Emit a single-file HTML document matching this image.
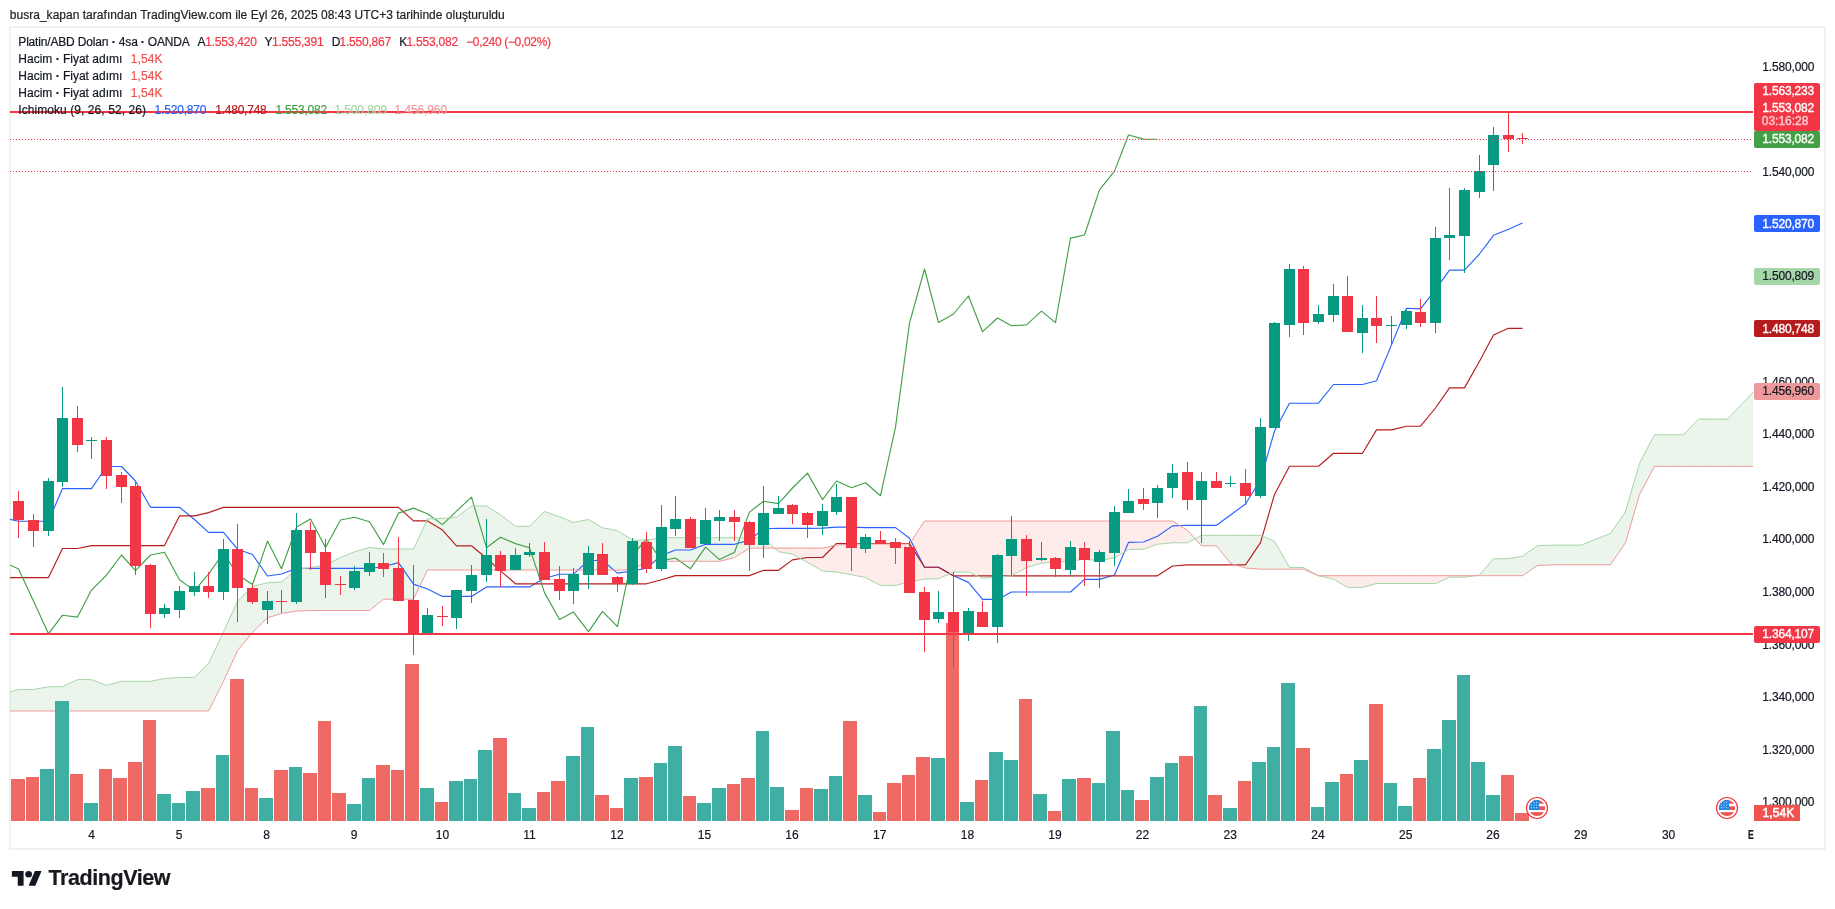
<!DOCTYPE html>
<html><head><meta charset="utf-8"><title>chart</title>
<style>
html,body{margin:0;padding:0;background:#fff;}
body{width:1835px;height:909px;position:relative;overflow:hidden;font-family:"Liberation Sans",sans-serif;}
.frame{position:absolute;left:9px;top:26px;width:1813px;height:820px;border:2px solid #f1f1f2;box-sizing:content-box}
.t{font-family:"Liberation Sans",sans-serif;-webkit-text-stroke:0.2px currentColor;}.t b{font-weight:bold}
</style></head><body>
<div class="frame"></div>
<svg width="1835" height="909" viewBox="0 0 1835 909" style="position:absolute;left:0;top:0"><defs><clipPath id="cp"><rect x="10" y="28" width="1743" height="793"/></clipPath></defs>
<g clip-path="url(#cp)">
<path d="M10.00 691.90 L18.50 689.50 L33.50 689.50 L48.50 686.70 L62.50 686.70 L77.50 679.60 L91.50 679.60 L106.50 685.40 L121.50 681.30 L135.50 681.30 L150.50 681.30 L164.50 678.50 L179.50 677.50 L194.50 677.30 L208.50 663.70 L223.50 631.80 L237.50 601.30 L252.50 586.40 L267.50 582.80 L281.50 582.00 L296.50 569.50 L310.50 567.60 L325.50 565.00 L340.50 557.50 L354.50 551.90 L369.50 547.40 L383.50 549.00 L398.50 549.00 L413.50 549.00 L427.50 518.90 L442.50 518.40 L456.50 517.20 L471.50 506.00 L486.50 506.00 L500.50 514.80 L515.50 526.30 L529.50 526.30 L544.50 511.50 L559.50 516.70 L573.50 522.50 L588.50 519.50 L602.50 527.80 L617.50 530.70 L632.50 540.10 L646.50 540.10 L661.50 537.70 L675.50 537.70 L690.50 537.70 L705.50 537.70 L719.50 537.70 L734.50 537.70 L749.50 537.70 L763.50 538.00 L763.50 548.10 L749.50 548.10 L734.50 557.50 L719.50 561.30 L705.50 561.30 L690.50 561.30 L675.50 561.30 L661.50 561.30 L646.50 561.40 L632.50 570.00 L617.50 570.00 L602.50 570.00 L588.50 570.00 L573.50 570.00 L559.50 570.00 L544.50 570.00 L529.50 570.00 L515.50 570.00 L500.50 570.00 L486.50 570.00 L471.50 570.00 L456.50 570.00 L442.50 570.00 L427.50 570.00 L413.50 599.20 L398.50 599.20 L383.50 599.20 L369.50 610.50 L354.50 610.50 L340.50 610.50 L325.50 610.50 L310.50 610.50 L296.50 611.00 L281.50 613.50 L267.50 617.80 L252.50 632.60 L237.50 650.50 L223.50 681.40 L208.50 711.00 L194.50 711.00 L179.50 711.00 L164.50 711.00 L150.50 711.00 L135.50 711.00 L121.50 711.00 L106.50 711.00 L91.50 711.00 L77.50 711.00 L62.50 711.00 L48.50 711.00 L33.50 711.00 L18.50 711.00 L10.00 711.00Z M1187.50 542.80 L1201.50 535.30 L1216.50 535.30 L1230.50 535.30 L1245.50 535.30 L1260.50 535.30 L1274.50 541.20 L1289.50 567.50 L1303.50 567.50 L1303.50 569.20 L1289.50 569.20 L1274.50 569.20 L1260.50 569.20 L1245.50 568.00 L1230.50 563.40 L1216.50 545.80 L1201.50 545.80 L1187.50 530.40Z M1464.50 577.20 L1479.50 575.00 L1493.50 558.70 L1508.50 558.70 L1522.50 556.20 L1537.50 545.70 L1552.50 545.10 L1566.50 545.10 L1581.50 545.10 L1595.50 539.30 L1610.50 533.40 L1625.50 511.90 L1639.50 463.20 L1654.50 434.80 L1668.50 434.80 L1683.50 434.80 L1698.50 419.10 L1712.50 419.10 L1727.50 419.10 L1741.50 404.60 L1756.50 388.50 L1771.50 367.30 L1771.50 466.30 L1756.50 466.30 L1741.50 466.30 L1727.50 466.30 L1712.50 466.30 L1698.50 466.30 L1683.50 466.30 L1668.50 466.30 L1654.50 466.30 L1639.50 494.60 L1625.50 542.70 L1610.50 564.80 L1595.50 564.80 L1581.50 564.80 L1566.50 564.80 L1552.50 564.80 L1537.50 565.50 L1522.50 575.70 L1508.50 575.70 L1493.50 575.70 L1479.50 575.70 L1464.50 575.70Z " fill="#43a047" fill-opacity="0.1"/>
<path d="M763.50 538.00 L778.50 551.70 L792.50 554.20 L807.50 562.40 L822.50 571.00 L836.50 572.00 L851.50 574.80 L865.50 577.50 L880.50 585.40 L895.50 585.40 L909.50 582.00 L924.50 579.10 L938.50 578.80 L953.50 572.00 L968.50 572.00 L982.50 578.30 L997.50 577.00 L1011.50 575.80 L1026.50 567.60 L1041.50 563.10 L1055.50 562.30 L1070.50 561.00 L1084.50 559.30 L1099.50 560.60 L1114.50 557.80 L1128.50 549.60 L1143.50 549.20 L1157.50 544.20 L1172.50 542.80 L1187.50 542.80 L1187.50 530.40 L1172.50 521.00 L1157.50 521.00 L1143.50 521.00 L1128.50 521.00 L1114.50 521.00 L1099.50 521.00 L1084.50 521.00 L1070.50 521.00 L1055.50 521.00 L1041.50 521.00 L1026.50 521.00 L1011.50 521.00 L997.50 521.00 L982.50 521.00 L968.50 521.00 L953.50 521.00 L938.50 521.00 L924.50 521.00 L909.50 544.00 L895.50 544.00 L880.50 544.00 L865.50 544.00 L851.50 544.00 L836.50 545.00 L822.50 548.10 L807.50 548.10 L792.50 548.10 L778.50 548.10 L763.50 548.10Z M1303.50 567.50 L1318.50 575.80 L1333.50 579.00 L1347.50 587.40 L1362.50 587.40 L1376.50 583.50 L1391.50 583.50 L1406.50 583.50 L1420.50 583.50 L1435.50 583.50 L1449.50 577.20 L1464.50 577.20 L1464.50 575.70 L1449.50 575.70 L1435.50 575.70 L1420.50 575.70 L1406.50 575.70 L1391.50 575.70 L1376.50 575.70 L1362.50 575.70 L1347.50 575.70 L1333.50 575.70 L1318.50 575.70 L1303.50 569.20Z " fill="#f44336" fill-opacity="0.1"/>
<polyline points="10.00,519.40 18.50,521.20 33.50,521.20 48.50,521.20 62.50,488.60 77.50,488.60 91.50,488.60 106.50,466.50 121.50,466.50 135.50,481.00 150.50,507.30 164.50,507.30 179.50,507.30 194.50,519.50 208.50,532.40 223.50,532.40 237.50,549.20 252.50,554.50 267.50,576.00 281.50,574.00 296.50,568.40 310.50,568.40 325.50,568.40 340.50,568.40 354.50,568.40 369.50,568.40 383.50,566.70 398.50,562.60 413.50,584.10 427.50,589.00 442.50,596.40 456.50,596.40 471.50,596.40 486.50,586.90 500.50,586.90 515.50,586.90 529.50,586.90 544.50,578.30 559.50,574.20 573.50,574.20 588.50,560.50 602.50,560.50 617.50,573.10 632.50,571.00 646.50,568.20 661.50,555.50 675.50,550.00 690.50,550.00 705.50,544.30 719.50,544.30 734.50,544.30 749.50,540.10 763.50,528.70 778.50,528.30 792.50,528.30 807.50,528.30 822.50,528.10 836.50,527.10 851.50,527.10 865.50,527.60 880.50,527.60 895.50,527.60 909.50,538.30 924.50,567.20 938.50,567.20 953.50,575.80 968.50,582.40 982.50,599.40 997.50,599.40 1011.50,592.00 1026.50,592.00 1041.50,592.00 1055.50,592.00 1070.50,592.00 1084.50,579.40 1099.50,579.40 1114.50,575.00 1128.50,542.40 1143.50,542.00 1157.50,536.20 1172.50,525.90 1187.50,525.30 1201.50,525.30 1216.50,525.30 1230.50,515.00 1245.50,504.00 1260.50,480.00 1274.50,431.00 1289.50,403.20 1303.50,403.20 1318.50,403.20 1333.50,384.50 1347.50,384.50 1362.50,384.50 1376.50,380.70 1391.50,344.90 1406.50,308.30 1420.50,308.90 1435.50,289.60 1449.50,270.10 1464.50,270.10 1479.50,254.00 1493.50,235.30 1508.50,229.20 1522.50,222.90" fill="none" stroke="#2962ff" stroke-width="1.15" stroke-linejoin="round"/>
<polyline points="10.00,577.60 18.50,577.60 33.50,577.60 48.50,577.60 62.50,548.50 77.50,548.50 91.50,545.60 106.50,545.60 121.50,545.60 135.50,545.60 150.50,545.60 164.50,545.60 179.50,515.90 194.50,515.90 208.50,512.60 223.50,507.40 237.50,507.40 252.50,507.40 267.50,507.40 281.50,507.40 296.50,507.40 310.50,507.40 325.50,507.40 340.50,507.40 354.50,507.40 369.50,507.40 383.50,507.40 398.50,507.40 413.50,520.90 427.50,520.90 442.50,530.10 456.50,545.80 471.50,545.80 486.50,558.30 500.50,570.90 515.50,583.80 529.50,583.80 544.50,583.80 559.50,583.80 573.50,583.80 588.50,583.80 602.50,583.80 617.50,583.80 632.50,583.80 646.50,583.80 661.50,579.70 675.50,575.60 690.50,575.60 705.50,575.60 719.50,575.60 734.50,575.60 749.50,575.60 763.50,570.30 778.50,570.30 792.50,559.90 807.50,557.50 822.50,557.50 836.50,543.50 851.50,543.50 865.50,543.50 880.50,543.50 895.50,543.50 909.50,543.50 924.50,567.20 938.50,567.20 953.50,575.80 968.50,575.80 982.50,575.80 997.50,575.80 1011.50,575.80 1026.50,575.80 1041.50,575.80 1055.50,575.80 1070.50,575.80 1084.50,575.80 1099.50,575.80 1114.50,575.80 1128.50,575.80 1143.50,575.80 1157.50,575.80 1172.50,566.00 1187.50,564.90 1201.50,564.90 1216.50,564.90 1230.50,564.90 1245.50,564.90 1260.50,542.60 1274.50,494.40 1289.50,466.20 1303.50,466.20 1318.50,466.20 1333.50,453.30 1347.50,453.30 1362.50,453.30 1376.50,429.90 1391.50,429.90 1406.50,426.20 1420.50,426.20 1435.50,408.00 1449.50,387.90 1464.50,387.90 1479.50,361.20 1493.50,335.10 1508.50,328.30 1522.50,328.30" fill="none" stroke="#b71c1c" stroke-width="1.15" stroke-linejoin="round"/>
<polyline points="10.00,564.90 18.50,568.90 33.50,601.00 48.50,633.80 62.50,615.20 77.50,617.10 91.50,590.10 106.50,575.10 121.50,555.00 135.50,570.70 150.50,555.00 164.50,552.20 179.50,579.70 194.50,590.60 208.50,574.20 223.50,553.00 237.50,574.60 252.50,584.50 267.50,541.10 281.50,568.70 296.50,527.10 310.50,519.00 325.50,547.60 340.50,520.00 354.50,517.20 369.50,521.70 383.50,544.60 398.50,513.10 413.50,508.10 427.50,513.70 442.50,524.60 456.50,511.10 471.50,497.10 486.50,547.70 500.50,537.20 515.50,543.60 529.50,547.80 544.50,592.60 559.50,619.50 573.50,612.10 588.50,631.60 602.50,611.30 617.50,626.60 632.50,555.00 646.50,539.00 661.50,560.60 675.50,558.00 690.50,568.70 705.50,547.10 719.50,559.60 734.50,552.20 749.50,512.10 763.50,501.20 778.50,503.60 792.50,488.00 807.50,473.10 822.50,499.70 836.50,481.00 851.50,487.80 865.50,482.80 880.50,495.70 895.50,427.10 909.50,323.10 924.50,269.00 938.50,322.60 953.50,314.00 968.50,296.00 982.50,331.70 997.50,318.00 1011.50,325.70 1026.50,324.90 1041.50,311.10 1055.50,322.60 1070.50,238.10 1084.50,235.00 1099.50,189.90 1114.50,171.10 1128.50,135.00 1143.50,139.10 1157.50,139.30" fill="none" stroke="#43a047" stroke-width="1.15" stroke-linejoin="round"/>
<polyline points="10.00,691.90 18.50,689.50 33.50,689.50 48.50,686.70 62.50,686.70 77.50,679.60 91.50,679.60 106.50,685.40 121.50,681.30 135.50,681.30 150.50,681.30 164.50,678.50 179.50,677.50 194.50,677.30 208.50,663.70 223.50,631.80 237.50,601.30 252.50,586.40 267.50,582.80 281.50,582.00 296.50,569.50 310.50,567.60 325.50,565.00 340.50,557.50 354.50,551.90 369.50,547.40 383.50,549.00 398.50,549.00 413.50,549.00 427.50,518.90 442.50,518.40 456.50,517.20 471.50,506.00 486.50,506.00 500.50,514.80 515.50,526.30 529.50,526.30 544.50,511.50 559.50,516.70 573.50,522.50 588.50,519.50 602.50,527.80 617.50,530.70 632.50,540.10 646.50,540.10 661.50,537.70 675.50,537.70 690.50,537.70 705.50,537.70 719.50,537.70 734.50,537.70 749.50,537.70 763.50,538.00 778.50,551.70 792.50,554.20 807.50,562.40 822.50,571.00 836.50,572.00 851.50,574.80 865.50,577.50 880.50,585.40 895.50,585.40 909.50,582.00 924.50,579.10 938.50,578.80 953.50,572.00 968.50,572.00 982.50,578.30 997.50,577.00 1011.50,575.80 1026.50,567.60 1041.50,563.10 1055.50,562.30 1070.50,561.00 1084.50,559.30 1099.50,560.60 1114.50,557.80 1128.50,549.60 1143.50,549.20 1157.50,544.20 1172.50,542.80 1187.50,542.80 1201.50,535.30 1216.50,535.30 1230.50,535.30 1245.50,535.30 1260.50,535.30 1274.50,541.20 1289.50,567.50 1303.50,567.50 1318.50,575.80 1333.50,579.00 1347.50,587.40 1362.50,587.40 1376.50,583.50 1391.50,583.50 1406.50,583.50 1420.50,583.50 1435.50,583.50 1449.50,577.20 1464.50,577.20 1479.50,575.00 1493.50,558.70 1508.50,558.70 1522.50,556.20 1537.50,545.70 1552.50,545.10 1566.50,545.10 1581.50,545.10 1595.50,539.30 1610.50,533.40 1625.50,511.90 1639.50,463.20 1654.50,434.80 1668.50,434.80 1683.50,434.80 1698.50,419.10 1712.50,419.10 1727.50,419.10 1741.50,404.60 1756.50,388.50 1771.50,367.30" fill="none" stroke="#a5d6a7" stroke-width="1" stroke-linejoin="round"/>
<polyline points="10.00,711.00 18.50,711.00 33.50,711.00 48.50,711.00 62.50,711.00 77.50,711.00 91.50,711.00 106.50,711.00 121.50,711.00 135.50,711.00 150.50,711.00 164.50,711.00 179.50,711.00 194.50,711.00 208.50,711.00 223.50,681.40 237.50,650.50 252.50,632.60 267.50,617.80 281.50,613.50 296.50,611.00 310.50,610.50 325.50,610.50 340.50,610.50 354.50,610.50 369.50,610.50 383.50,599.20 398.50,599.20 413.50,599.20 427.50,570.00 442.50,570.00 456.50,570.00 471.50,570.00 486.50,570.00 500.50,570.00 515.50,570.00 529.50,570.00 544.50,570.00 559.50,570.00 573.50,570.00 588.50,570.00 602.50,570.00 617.50,570.00 632.50,570.00 646.50,561.40 661.50,561.30 675.50,561.30 690.50,561.30 705.50,561.30 719.50,561.30 734.50,557.50 749.50,548.10 763.50,548.10 778.50,548.10 792.50,548.10 807.50,548.10 822.50,548.10 836.50,545.00 851.50,544.00 865.50,544.00 880.50,544.00 895.50,544.00 909.50,544.00 924.50,521.00 938.50,521.00 953.50,521.00 968.50,521.00 982.50,521.00 997.50,521.00 1011.50,521.00 1026.50,521.00 1041.50,521.00 1055.50,521.00 1070.50,521.00 1084.50,521.00 1099.50,521.00 1114.50,521.00 1128.50,521.00 1143.50,521.00 1157.50,521.00 1172.50,521.00 1187.50,530.40 1201.50,545.80 1216.50,545.80 1230.50,563.40 1245.50,568.00 1260.50,569.20 1274.50,569.20 1289.50,569.20 1303.50,569.20 1318.50,575.70 1333.50,575.70 1347.50,575.70 1362.50,575.70 1376.50,575.70 1391.50,575.70 1406.50,575.70 1420.50,575.70 1435.50,575.70 1449.50,575.70 1464.50,575.70 1479.50,575.70 1493.50,575.70 1508.50,575.70 1522.50,575.70 1537.50,565.50 1552.50,564.80 1566.50,564.80 1581.50,564.80 1595.50,564.80 1610.50,564.80 1625.50,542.70 1639.50,494.60 1654.50,466.30 1668.50,466.30 1683.50,466.30 1698.50,466.30 1712.50,466.30 1727.50,466.30 1741.50,466.30 1756.50,466.30 1771.50,466.30" fill="none" stroke="#ef9a9a" stroke-width="1" stroke-linejoin="round"/>
</g>
<g shape-rendering="crispEdges">
<rect x="11.0" y="779" width="14.0" height="42" fill="#ef6a65"/>
<rect x="26.0" y="777" width="13.0" height="44" fill="#ef6a65"/>
<rect x="40.0" y="769" width="14.0" height="52" fill="#3faea3"/>
<rect x="55.0" y="701" width="14.0" height="120" fill="#3faea3"/>
<rect x="70.0" y="774" width="13.0" height="47" fill="#ef6a65"/>
<rect x="84.0" y="803" width="14.0" height="18" fill="#3faea3"/>
<rect x="99.0" y="769" width="13.0" height="52" fill="#ef6a65"/>
<rect x="113.0" y="778" width="14.0" height="43" fill="#ef6a65"/>
<rect x="128.0" y="762" width="14.0" height="59" fill="#ef6a65"/>
<rect x="143.0" y="720" width="13.0" height="101" fill="#ef6a65"/>
<rect x="157.0" y="794" width="14.0" height="27" fill="#3faea3"/>
<rect x="172.0" y="803" width="13.0" height="18" fill="#3faea3"/>
<rect x="186.0" y="791" width="14.0" height="30" fill="#3faea3"/>
<rect x="201.0" y="788" width="14.0" height="33" fill="#ef6a65"/>
<rect x="216.0" y="755" width="13.0" height="66" fill="#3faea3"/>
<rect x="230.0" y="679" width="14.0" height="142" fill="#ef6a65"/>
<rect x="245.0" y="788" width="13.0" height="33" fill="#ef6a65"/>
<rect x="259.0" y="798" width="14.0" height="23" fill="#3faea3"/>
<rect x="274.0" y="770" width="14.0" height="51" fill="#ef6a65"/>
<rect x="289.0" y="767" width="13.0" height="54" fill="#3faea3"/>
<rect x="303.0" y="773" width="14.0" height="48" fill="#ef6a65"/>
<rect x="318.0" y="721" width="13.0" height="100" fill="#ef6a65"/>
<rect x="332.0" y="793" width="14.0" height="28" fill="#ef6a65"/>
<rect x="347.0" y="804" width="14.0" height="17" fill="#3faea3"/>
<rect x="362.0" y="778" width="13.0" height="43" fill="#3faea3"/>
<rect x="376.0" y="765" width="14.0" height="56" fill="#ef6a65"/>
<rect x="391.0" y="770" width="13.0" height="51" fill="#ef6a65"/>
<rect x="405.0" y="664" width="14.0" height="157" fill="#ef6a65"/>
<rect x="420.0" y="788" width="14.0" height="33" fill="#3faea3"/>
<rect x="435.0" y="802" width="13.0" height="19" fill="#ef6a65"/>
<rect x="449.0" y="781" width="14.0" height="40" fill="#3faea3"/>
<rect x="464.0" y="779" width="13.0" height="42" fill="#3faea3"/>
<rect x="478.0" y="750" width="14.0" height="71" fill="#3faea3"/>
<rect x="493.0" y="738" width="14.0" height="83" fill="#ef6a65"/>
<rect x="508.0" y="793" width="13.0" height="28" fill="#3faea3"/>
<rect x="522.0" y="808" width="14.0" height="13" fill="#3faea3"/>
<rect x="537.0" y="792" width="13.0" height="29" fill="#ef6a65"/>
<rect x="551.0" y="781" width="14.0" height="40" fill="#ef6a65"/>
<rect x="566.0" y="756" width="14.0" height="65" fill="#3faea3"/>
<rect x="581.0" y="727" width="13.0" height="94" fill="#3faea3"/>
<rect x="595.0" y="795" width="14.0" height="26" fill="#ef6a65"/>
<rect x="610.0" y="808" width="13.0" height="13" fill="#ef6a65"/>
<rect x="624.0" y="778" width="14.0" height="43" fill="#3faea3"/>
<rect x="639.0" y="777" width="14.0" height="44" fill="#ef6a65"/>
<rect x="654.0" y="763" width="13.0" height="58" fill="#3faea3"/>
<rect x="668.0" y="746" width="14.0" height="75" fill="#3faea3"/>
<rect x="683.0" y="796" width="13.0" height="25" fill="#ef6a65"/>
<rect x="697.0" y="803" width="14.0" height="18" fill="#3faea3"/>
<rect x="712.0" y="788" width="14.0" height="33" fill="#3faea3"/>
<rect x="727.0" y="784" width="13.0" height="37" fill="#ef6a65"/>
<rect x="741.0" y="778" width="14.0" height="43" fill="#ef6a65"/>
<rect x="756.0" y="731" width="13.0" height="90" fill="#3faea3"/>
<rect x="770.0" y="787" width="14.0" height="34" fill="#3faea3"/>
<rect x="785.0" y="810" width="14.0" height="11" fill="#ef6a65"/>
<rect x="800.0" y="788" width="13.0" height="33" fill="#ef6a65"/>
<rect x="814.0" y="789" width="14.0" height="32" fill="#3faea3"/>
<rect x="829.0" y="776" width="13.0" height="45" fill="#3faea3"/>
<rect x="843.0" y="721" width="14.0" height="100" fill="#ef6a65"/>
<rect x="858.0" y="795" width="14.0" height="26" fill="#3faea3"/>
<rect x="873.0" y="812" width="13.0" height="9" fill="#ef6a65"/>
<rect x="887.0" y="783" width="14.0" height="38" fill="#ef6a65"/>
<rect x="902.0" y="775" width="13.0" height="46" fill="#ef6a65"/>
<rect x="916.0" y="757" width="14.0" height="64" fill="#ef6a65"/>
<rect x="931.0" y="758" width="14.0" height="63" fill="#3faea3"/>
<rect x="946.0" y="623" width="13.0" height="198" fill="#ef6a65"/>
<rect x="960.0" y="802" width="14.0" height="19" fill="#3faea3"/>
<rect x="975.0" y="780" width="13.0" height="41" fill="#ef6a65"/>
<rect x="989.0" y="752" width="14.0" height="69" fill="#3faea3"/>
<rect x="1004.0" y="760" width="14.0" height="61" fill="#3faea3"/>
<rect x="1019.0" y="699" width="13.0" height="122" fill="#ef6a65"/>
<rect x="1033.0" y="794" width="14.0" height="27" fill="#3faea3"/>
<rect x="1048.0" y="811" width="13.0" height="10" fill="#ef6a65"/>
<rect x="1062.0" y="779" width="14.0" height="42" fill="#3faea3"/>
<rect x="1077.0" y="778" width="14.0" height="43" fill="#ef6a65"/>
<rect x="1092.0" y="783" width="13.0" height="38" fill="#3faea3"/>
<rect x="1106.0" y="731" width="14.0" height="90" fill="#3faea3"/>
<rect x="1121.0" y="790" width="13.0" height="31" fill="#3faea3"/>
<rect x="1135.0" y="800" width="14.0" height="21" fill="#ef6a65"/>
<rect x="1150.0" y="777" width="14.0" height="44" fill="#3faea3"/>
<rect x="1165.0" y="763" width="13.0" height="58" fill="#3faea3"/>
<rect x="1179.0" y="756" width="14.0" height="65" fill="#ef6a65"/>
<rect x="1194.0" y="706" width="13.0" height="115" fill="#3faea3"/>
<rect x="1208.0" y="795" width="14.0" height="26" fill="#ef6a65"/>
<rect x="1223.0" y="808" width="14.0" height="13" fill="#3faea3"/>
<rect x="1238.0" y="781" width="13.0" height="40" fill="#ef6a65"/>
<rect x="1252.0" y="762" width="14.0" height="59" fill="#3faea3"/>
<rect x="1267.0" y="747" width="13.0" height="74" fill="#3faea3"/>
<rect x="1281.0" y="683" width="14.0" height="138" fill="#3faea3"/>
<rect x="1296.0" y="748" width="14.0" height="73" fill="#ef6a65"/>
<rect x="1311.0" y="807" width="13.0" height="14" fill="#3faea3"/>
<rect x="1325.0" y="782" width="14.0" height="39" fill="#3faea3"/>
<rect x="1340.0" y="774" width="13.0" height="47" fill="#ef6a65"/>
<rect x="1354.0" y="760" width="14.0" height="61" fill="#3faea3"/>
<rect x="1369.0" y="704" width="14.0" height="117" fill="#ef6a65"/>
<rect x="1384.0" y="783" width="13.0" height="38" fill="#3faea3"/>
<rect x="1398.0" y="806" width="14.0" height="15" fill="#3faea3"/>
<rect x="1413.0" y="778" width="13.0" height="43" fill="#ef6a65"/>
<rect x="1427.0" y="749" width="14.0" height="72" fill="#3faea3"/>
<rect x="1442.0" y="720" width="14.0" height="101" fill="#3faea3"/>
<rect x="1457.0" y="675" width="13.0" height="146" fill="#3faea3"/>
<rect x="1471.0" y="762" width="14.0" height="59" fill="#3faea3"/>
<rect x="1486.0" y="795" width="14.0" height="26" fill="#3faea3"/>
<rect x="1501.0" y="775" width="13.0" height="46" fill="#ef6a65"/>
<rect x="1515.0" y="813" width="14.0" height="8" fill="#ef6a65"/>
</g>
<g shape-rendering="crispEdges">
<rect x="18" y="491" width="1" height="47" fill="#f23645"/>
<rect x="13" y="501" width="11" height="19" fill="#f23645"/>
<rect x="33" y="514" width="1" height="33" fill="#f23645"/>
<rect x="28" y="520" width="11" height="11" fill="#f23645"/>
<rect x="48" y="478" width="1" height="58" fill="#089981"/>
<rect x="43" y="481" width="11" height="50" fill="#089981"/>
<rect x="62" y="387" width="1" height="100" fill="#089981"/>
<rect x="57" y="418" width="11" height="64" fill="#089981"/>
<rect x="77" y="406" width="1" height="46" fill="#f23645"/>
<rect x="72" y="418" width="11" height="27" fill="#f23645"/>
<rect x="91" y="437" width="1" height="22" fill="#089981"/>
<rect x="86" y="440" width="11" height="1" fill="#089981"/>
<rect x="106" y="437" width="1" height="52" fill="#f23645"/>
<rect x="101" y="440" width="11" height="36" fill="#f23645"/>
<rect x="121" y="472" width="1" height="31" fill="#f23645"/>
<rect x="116" y="475" width="11" height="12" fill="#f23645"/>
<rect x="135" y="481" width="1" height="94" fill="#f23645"/>
<rect x="130" y="486" width="11" height="80" fill="#f23645"/>
<rect x="150" y="564" width="1" height="64" fill="#f23645"/>
<rect x="145" y="565" width="11" height="49" fill="#f23645"/>
<rect x="164" y="604" width="1" height="14" fill="#089981"/>
<rect x="159" y="608" width="11" height="6" fill="#089981"/>
<rect x="179" y="586" width="1" height="32" fill="#089981"/>
<rect x="174" y="591" width="11" height="19" fill="#089981"/>
<rect x="194" y="572" width="1" height="24" fill="#089981"/>
<rect x="189" y="586" width="11" height="6" fill="#089981"/>
<rect x="208" y="572" width="1" height="26" fill="#f23645"/>
<rect x="203" y="586" width="11" height="6" fill="#f23645"/>
<rect x="223" y="539" width="1" height="61" fill="#089981"/>
<rect x="218" y="549" width="11" height="43" fill="#089981"/>
<rect x="237" y="524" width="1" height="98" fill="#f23645"/>
<rect x="232" y="549" width="11" height="39" fill="#f23645"/>
<rect x="252" y="585" width="1" height="19" fill="#f23645"/>
<rect x="247" y="588" width="11" height="14" fill="#f23645"/>
<rect x="267" y="591" width="1" height="33" fill="#089981"/>
<rect x="262" y="601" width="11" height="9" fill="#089981"/>
<rect x="281" y="590" width="1" height="23" fill="#f23645"/>
<rect x="276" y="601" width="11" height="1" fill="#f23645"/>
<rect x="296" y="513" width="1" height="91" fill="#089981"/>
<rect x="291" y="530" width="11" height="72" fill="#089981"/>
<rect x="310" y="522" width="1" height="48" fill="#f23645"/>
<rect x="305" y="530" width="11" height="23" fill="#f23645"/>
<rect x="325" y="539" width="1" height="59" fill="#f23645"/>
<rect x="320" y="552" width="11" height="33" fill="#f23645"/>
<rect x="340" y="576" width="1" height="19" fill="#f23645"/>
<rect x="335" y="584" width="11" height="1" fill="#f23645"/>
<rect x="354" y="566" width="1" height="24" fill="#089981"/>
<rect x="349" y="571" width="11" height="17" fill="#089981"/>
<rect x="369" y="552" width="1" height="24" fill="#089981"/>
<rect x="364" y="563" width="11" height="9" fill="#089981"/>
<rect x="383" y="553" width="1" height="24" fill="#f23645"/>
<rect x="378" y="563" width="11" height="6" fill="#f23645"/>
<rect x="398" y="537" width="1" height="64" fill="#f23645"/>
<rect x="393" y="568" width="11" height="33" fill="#f23645"/>
<rect x="413" y="565" width="1" height="90" fill="#f23645"/>
<rect x="408" y="600" width="11" height="34" fill="#f23645"/>
<rect x="427" y="608" width="1" height="26" fill="#089981"/>
<rect x="422" y="615" width="11" height="19" fill="#089981"/>
<rect x="442" y="606" width="1" height="20" fill="#f23645"/>
<rect x="437" y="616" width="11" height="1" fill="#f23645"/>
<rect x="456" y="590" width="1" height="39" fill="#089981"/>
<rect x="451" y="590" width="11" height="28" fill="#089981"/>
<rect x="471" y="565" width="1" height="38" fill="#089981"/>
<rect x="466" y="575" width="11" height="16" fill="#089981"/>
<rect x="486" y="519" width="1" height="63" fill="#089981"/>
<rect x="481" y="555" width="11" height="20" fill="#089981"/>
<rect x="500" y="551" width="1" height="36" fill="#f23645"/>
<rect x="495" y="555" width="11" height="16" fill="#f23645"/>
<rect x="515" y="548" width="1" height="22" fill="#089981"/>
<rect x="510" y="555" width="11" height="15" fill="#089981"/>
<rect x="529" y="543" width="1" height="14" fill="#089981"/>
<rect x="524" y="552" width="11" height="3" fill="#089981"/>
<rect x="544" y="542" width="1" height="38" fill="#f23645"/>
<rect x="539" y="552" width="11" height="28" fill="#f23645"/>
<rect x="559" y="566" width="1" height="34" fill="#f23645"/>
<rect x="554" y="579" width="11" height="12" fill="#f23645"/>
<rect x="573" y="568" width="1" height="36" fill="#089981"/>
<rect x="568" y="574" width="11" height="17" fill="#089981"/>
<rect x="588" y="546" width="1" height="43" fill="#089981"/>
<rect x="583" y="553" width="11" height="22" fill="#089981"/>
<rect x="602" y="543" width="1" height="32" fill="#f23645"/>
<rect x="597" y="554" width="11" height="21" fill="#f23645"/>
<rect x="617" y="576" width="1" height="16" fill="#f23645"/>
<rect x="612" y="577" width="11" height="7" fill="#f23645"/>
<rect x="632" y="538" width="1" height="47" fill="#089981"/>
<rect x="627" y="541" width="11" height="43" fill="#089981"/>
<rect x="646" y="532" width="1" height="41" fill="#f23645"/>
<rect x="641" y="542" width="11" height="27" fill="#f23645"/>
<rect x="661" y="505" width="1" height="66" fill="#089981"/>
<rect x="656" y="527" width="11" height="42" fill="#089981"/>
<rect x="675" y="496" width="1" height="40" fill="#089981"/>
<rect x="670" y="519" width="11" height="10" fill="#089981"/>
<rect x="690" y="517" width="1" height="31" fill="#f23645"/>
<rect x="685" y="519" width="11" height="29" fill="#f23645"/>
<rect x="705" y="508" width="1" height="36" fill="#089981"/>
<rect x="700" y="520" width="11" height="24" fill="#089981"/>
<rect x="719" y="510" width="1" height="31" fill="#089981"/>
<rect x="714" y="517" width="11" height="4" fill="#089981"/>
<rect x="734" y="510" width="1" height="31" fill="#f23645"/>
<rect x="729" y="517" width="11" height="5" fill="#f23645"/>
<rect x="749" y="521" width="1" height="50" fill="#f23645"/>
<rect x="744" y="522" width="11" height="23" fill="#f23645"/>
<rect x="763" y="486" width="1" height="72" fill="#089981"/>
<rect x="758" y="513" width="11" height="32" fill="#089981"/>
<rect x="778" y="496" width="1" height="18" fill="#089981"/>
<rect x="773" y="508" width="11" height="6" fill="#089981"/>
<rect x="792" y="504" width="1" height="20" fill="#f23645"/>
<rect x="787" y="505" width="11" height="9" fill="#f23645"/>
<rect x="807" y="512" width="1" height="26" fill="#f23645"/>
<rect x="802" y="513" width="11" height="12" fill="#f23645"/>
<rect x="822" y="504" width="1" height="31" fill="#089981"/>
<rect x="817" y="511" width="11" height="15" fill="#089981"/>
<rect x="836" y="484" width="1" height="31" fill="#089981"/>
<rect x="831" y="497" width="11" height="15" fill="#089981"/>
<rect x="851" y="497" width="1" height="74" fill="#f23645"/>
<rect x="846" y="497" width="11" height="51" fill="#f23645"/>
<rect x="865" y="534" width="1" height="19" fill="#089981"/>
<rect x="860" y="537" width="11" height="12" fill="#089981"/>
<rect x="880" y="531" width="1" height="13" fill="#f23645"/>
<rect x="875" y="540" width="11" height="4" fill="#f23645"/>
<rect x="895" y="538" width="1" height="26" fill="#f23645"/>
<rect x="890" y="542" width="11" height="6" fill="#f23645"/>
<rect x="909" y="541" width="1" height="52" fill="#f23645"/>
<rect x="904" y="547" width="11" height="46" fill="#f23645"/>
<rect x="924" y="587" width="1" height="65" fill="#f23645"/>
<rect x="919" y="592" width="11" height="28" fill="#f23645"/>
<rect x="938" y="591" width="1" height="32" fill="#089981"/>
<rect x="933" y="612" width="11" height="7" fill="#089981"/>
<rect x="953" y="572" width="1" height="96" fill="#f23645"/>
<rect x="948" y="612" width="11" height="20" fill="#f23645"/>
<rect x="968" y="608" width="1" height="33" fill="#089981"/>
<rect x="963" y="611" width="11" height="23" fill="#089981"/>
<rect x="982" y="601" width="1" height="26" fill="#f23645"/>
<rect x="977" y="612" width="11" height="15" fill="#f23645"/>
<rect x="997" y="554" width="1" height="89" fill="#089981"/>
<rect x="992" y="555" width="11" height="72" fill="#089981"/>
<rect x="1011" y="516" width="1" height="60" fill="#089981"/>
<rect x="1006" y="539" width="11" height="17" fill="#089981"/>
<rect x="1026" y="535" width="1" height="61" fill="#f23645"/>
<rect x="1021" y="539" width="11" height="22" fill="#f23645"/>
<rect x="1041" y="542" width="1" height="19" fill="#089981"/>
<rect x="1036" y="558" width="11" height="2" fill="#089981"/>
<rect x="1055" y="557" width="1" height="20" fill="#f23645"/>
<rect x="1050" y="558" width="11" height="11" fill="#f23645"/>
<rect x="1070" y="541" width="1" height="34" fill="#089981"/>
<rect x="1065" y="547" width="11" height="23" fill="#089981"/>
<rect x="1084" y="542" width="1" height="44" fill="#f23645"/>
<rect x="1079" y="548" width="11" height="12" fill="#f23645"/>
<rect x="1099" y="550" width="1" height="38" fill="#089981"/>
<rect x="1094" y="552" width="11" height="10" fill="#089981"/>
<rect x="1114" y="506" width="1" height="60" fill="#089981"/>
<rect x="1109" y="512" width="11" height="41" fill="#089981"/>
<rect x="1128" y="489" width="1" height="24" fill="#089981"/>
<rect x="1123" y="501" width="11" height="12" fill="#089981"/>
<rect x="1143" y="488" width="1" height="22" fill="#f23645"/>
<rect x="1138" y="499" width="11" height="5" fill="#f23645"/>
<rect x="1157" y="485" width="1" height="33" fill="#089981"/>
<rect x="1152" y="488" width="11" height="15" fill="#089981"/>
<rect x="1172" y="464" width="1" height="34" fill="#089981"/>
<rect x="1167" y="473" width="11" height="15" fill="#089981"/>
<rect x="1187" y="462" width="1" height="48" fill="#f23645"/>
<rect x="1182" y="472" width="11" height="28" fill="#f23645"/>
<rect x="1201" y="472" width="1" height="71" fill="#089981"/>
<rect x="1196" y="481" width="11" height="19" fill="#089981"/>
<rect x="1216" y="472" width="1" height="16" fill="#f23645"/>
<rect x="1211" y="481" width="11" height="7" fill="#f23645"/>
<rect x="1230" y="476" width="1" height="11" fill="#089981"/>
<rect x="1225" y="483" width="11" height="1" fill="#089981"/>
<rect x="1245" y="469" width="1" height="36" fill="#f23645"/>
<rect x="1240" y="483" width="11" height="13" fill="#f23645"/>
<rect x="1260" y="418" width="1" height="80" fill="#089981"/>
<rect x="1255" y="427" width="11" height="69" fill="#089981"/>
<rect x="1274" y="322" width="1" height="106" fill="#089981"/>
<rect x="1269" y="323" width="11" height="105" fill="#089981"/>
<rect x="1289" y="264" width="1" height="73" fill="#089981"/>
<rect x="1284" y="269" width="11" height="56" fill="#089981"/>
<rect x="1303" y="266" width="1" height="69" fill="#f23645"/>
<rect x="1298" y="269" width="11" height="54" fill="#f23645"/>
<rect x="1318" y="305" width="1" height="19" fill="#089981"/>
<rect x="1313" y="314" width="11" height="8" fill="#089981"/>
<rect x="1333" y="284" width="1" height="38" fill="#089981"/>
<rect x="1328" y="296" width="11" height="19" fill="#089981"/>
<rect x="1347" y="276" width="1" height="56" fill="#f23645"/>
<rect x="1342" y="296" width="11" height="36" fill="#f23645"/>
<rect x="1362" y="305" width="1" height="48" fill="#089981"/>
<rect x="1357" y="318" width="11" height="15" fill="#089981"/>
<rect x="1376" y="296" width="1" height="47" fill="#f23645"/>
<rect x="1371" y="318" width="11" height="8" fill="#f23645"/>
<rect x="1391" y="316" width="1" height="28" fill="#089981"/>
<rect x="1386" y="325" width="11" height="1" fill="#089981"/>
<rect x="1406" y="310" width="1" height="19" fill="#089981"/>
<rect x="1401" y="311" width="11" height="14" fill="#089981"/>
<rect x="1420" y="299" width="1" height="28" fill="#f23645"/>
<rect x="1415" y="312" width="11" height="11" fill="#f23645"/>
<rect x="1435" y="227" width="1" height="106" fill="#089981"/>
<rect x="1430" y="238" width="11" height="85" fill="#089981"/>
<rect x="1449" y="188" width="1" height="72" fill="#089981"/>
<rect x="1444" y="235" width="11" height="3" fill="#089981"/>
<rect x="1464" y="188" width="1" height="85" fill="#089981"/>
<rect x="1459" y="190" width="11" height="46" fill="#089981"/>
<rect x="1479" y="155" width="1" height="43" fill="#089981"/>
<rect x="1474" y="171" width="11" height="21" fill="#089981"/>
<rect x="1493" y="127" width="1" height="64" fill="#089981"/>
<rect x="1488" y="135" width="11" height="30" fill="#089981"/>
<rect x="1508" y="112" width="1" height="40" fill="#f23645"/>
<rect x="1503" y="135" width="11" height="4" fill="#f23645"/>
<rect x="1522" y="133" width="1" height="11" fill="#f23645"/>
<rect x="1517" y="138" width="11" height="1" fill="#f23645"/>
</g>
<g shape-rendering="crispEdges">
<rect x="10" y="111" width="1743" height="2" fill="#f23645"/>
<rect x="10" y="633" width="1743" height="2" fill="#f23645"/>
</g>
<line x1="10" y1="139.5" x2="1752" y2="139.5" stroke="#f23645" stroke-width="1" stroke-dasharray="1 2" shape-rendering="crispEdges"/>
<line x1="10" y1="171.5" x2="1752" y2="171.5" stroke="#f23645" stroke-width="1" stroke-dasharray="1 2" shape-rendering="crispEdges"/>
<g transform="translate(1537,808)"><circle r="10.5" fill="#fff" stroke="#f23645" stroke-width="1.2"/><clipPath id="fc1537"><circle r="8.1"/></clipPath><g clip-path="url(#fc1537)"><rect x="-9" y="-9" width="18" height="18" fill="#fafcff"/><rect x="-9" y="-8.1" width="18" height="3.8" fill="#ef5350"/><rect x="-9" y="-1.7" width="18" height="3.7" fill="#ef5350"/><rect x="-9" y="4.2" width="18" height="4" fill="#ef5350"/><rect x="-9" y="-9" width="11" height="11" fill="#1e88e5"/><rect x="-6.2" y="-6.1" width="1" height="1" fill="#dbeafc"/><rect x="-3.5" y="-6.1" width="1" height="1" fill="#dbeafc"/><rect x="-0.9" y="-6.1" width="1" height="1" fill="#dbeafc"/><rect x="-6.2" y="-3.4" width="1" height="1" fill="#dbeafc"/><rect x="-3.5" y="-3.4" width="1" height="1" fill="#dbeafc"/><rect x="-0.9" y="-3.4" width="1" height="1" fill="#dbeafc"/><rect x="-6.2" y="-0.8" width="1" height="1" fill="#dbeafc"/><rect x="-3.5" y="-0.8" width="1" height="1" fill="#dbeafc"/><rect x="-0.9" y="-0.8" width="1" height="1" fill="#dbeafc"/></g></g>
<g transform="translate(1727,808)"><circle r="10.5" fill="#fff" stroke="#f23645" stroke-width="1.2"/><clipPath id="fc1727"><circle r="8.1"/></clipPath><g clip-path="url(#fc1727)"><rect x="-9" y="-9" width="18" height="18" fill="#fafcff"/><rect x="-9" y="-8.1" width="18" height="3.8" fill="#ef5350"/><rect x="-9" y="-1.7" width="18" height="3.7" fill="#ef5350"/><rect x="-9" y="4.2" width="18" height="4" fill="#ef5350"/><rect x="-9" y="-9" width="11" height="11" fill="#1e88e5"/><rect x="-6.2" y="-6.1" width="1" height="1" fill="#dbeafc"/><rect x="-3.5" y="-6.1" width="1" height="1" fill="#dbeafc"/><rect x="-0.9" y="-6.1" width="1" height="1" fill="#dbeafc"/><rect x="-6.2" y="-3.4" width="1" height="1" fill="#dbeafc"/><rect x="-3.5" y="-3.4" width="1" height="1" fill="#dbeafc"/><rect x="-0.9" y="-3.4" width="1" height="1" fill="#dbeafc"/><rect x="-6.2" y="-0.8" width="1" height="1" fill="#dbeafc"/><rect x="-3.5" y="-0.8" width="1" height="1" fill="#dbeafc"/><rect x="-0.9" y="-0.8" width="1" height="1" fill="#dbeafc"/></g></g>
<g transform="translate(11.9,867.6) scale(0.836,0.83)" fill="#131722"><path d="M14 22H7V11H0V4h14v18z"/><path d="M28 22h-8l7.5-18h8L28 22z"/><circle cx="20" cy="8" r="4"/></g></svg>
<div id="txt" style="position:absolute;left:0;top:0;width:1835px;height:909px;will-change:transform"><div class="t" id="t0" style="position:absolute;white-space:pre;line-height:1;font-size:12px;color:#222;font-weight:normal;top:9.34px;letter-spacing:0.021px;left:9.80px;">busra_kapan tarafından TradingView.com ile Eyl 26, 2025 08:43 UTC+3 tarihinde oluşturuldu</div>
<div class="t" id="t1" style="position:absolute;white-space:pre;line-height:1;font-size:12px;color:#131722;font-weight:normal;top:36.34px;letter-spacing:-0.175px;left:18.30px;">Platin/ABD Doları <b>·</b> 4sa <b>·</b> OANDA</div>
<div class="t" id="t2" style="position:absolute;white-space:pre;line-height:1;font-size:12px;color:#131722;font-weight:normal;top:36.34px;left:197.50px;">A</div>
<div class="t" id="t3" style="position:absolute;white-space:pre;line-height:1;font-size:12px;color:#f23645;font-weight:normal;top:36.34px;letter-spacing:-0.210px;left:205.20px;">1.553,420</div>
<div class="t" id="t4" style="position:absolute;white-space:pre;line-height:1;font-size:12px;color:#131722;font-weight:normal;top:36.34px;left:264.50px;">Y</div>
<div class="t" id="t5" style="position:absolute;white-space:pre;line-height:1;font-size:12px;color:#f23645;font-weight:normal;top:36.34px;letter-spacing:-0.210px;left:272.00px;">1.555,391</div>
<div class="t" id="t6" style="position:absolute;white-space:pre;line-height:1;font-size:12px;color:#131722;font-weight:normal;top:36.34px;left:331.80px;">D</div>
<div class="t" id="t7" style="position:absolute;white-space:pre;line-height:1;font-size:12px;color:#f23645;font-weight:normal;top:36.34px;letter-spacing:-0.210px;left:339.50px;">1.550,867</div>
<div class="t" id="t8" style="position:absolute;white-space:pre;line-height:1;font-size:12px;color:#131722;font-weight:normal;top:36.34px;left:399.30px;">K</div>
<div class="t" id="t9" style="position:absolute;white-space:pre;line-height:1;font-size:12px;color:#f23645;font-weight:normal;top:36.34px;letter-spacing:-0.210px;left:406.40px;">1.553,082</div>
<div class="t" id="t10" style="position:absolute;white-space:pre;line-height:1;font-size:12px;color:#f23645;font-weight:normal;top:36.34px;letter-spacing:-0.327px;left:466.20px;">−0,240 (−0,02%)</div>
<div class="t" id="t11" style="position:absolute;white-space:pre;line-height:1;font-size:12px;color:#131722;font-weight:normal;top:53.34px;letter-spacing:-0.002px;left:18.30px;">Hacim <b>·</b> Fiyat adımı</div>
<div class="t" id="t12" style="position:absolute;white-space:pre;line-height:1;font-size:12px;color:#ef5350;font-weight:normal;top:53.34px;letter-spacing:0.108px;left:130.80px;">1,54K</div>
<div class="t" id="t13" style="position:absolute;white-space:pre;line-height:1;font-size:12px;color:#131722;font-weight:normal;top:70.34px;letter-spacing:-0.002px;left:18.30px;">Hacim <b>·</b> Fiyat adımı</div>
<div class="t" id="t14" style="position:absolute;white-space:pre;line-height:1;font-size:12px;color:#ef5350;font-weight:normal;top:70.34px;letter-spacing:0.108px;left:130.80px;">1,54K</div>
<div class="t" id="t15" style="position:absolute;white-space:pre;line-height:1;font-size:12px;color:#131722;font-weight:normal;top:87.34px;letter-spacing:-0.002px;left:18.30px;">Hacim <b>·</b> Fiyat adımı</div>
<div class="t" id="t16" style="position:absolute;white-space:pre;line-height:1;font-size:12px;color:#ef5350;font-weight:normal;top:87.34px;letter-spacing:0.108px;left:130.80px;">1,54K</div>
<div class="t" id="t17" style="position:absolute;white-space:pre;line-height:1;font-size:12px;color:#131722;font-weight:normal;top:104.34px;letter-spacing:0.068px;left:18.30px;">Ichimoku (9, 26, 52, 26)</div>
<div class="t" id="t18" style="position:absolute;white-space:pre;line-height:1;font-size:12px;color:#2962ff;font-weight:normal;top:104.34px;letter-spacing:-0.177px;left:154.50px;">1.520,870</div>
<div class="t" id="t19" style="position:absolute;white-space:pre;line-height:1;font-size:12px;color:#b71c1c;font-weight:normal;top:104.34px;letter-spacing:-0.243px;left:215.30px;">1.480,748</div>
<div class="t" id="t20" style="position:absolute;white-space:pre;line-height:1;font-size:12px;color:#43a047;font-weight:normal;top:104.34px;letter-spacing:-0.210px;left:275.50px;">1.553,082</div>
<div class="t" id="t21" style="position:absolute;white-space:pre;line-height:1;font-size:12px;color:#a5d6a7;font-weight:normal;top:104.34px;letter-spacing:-0.121px;left:334.50px;">1.500,809</div>
<div class="t" id="t22" style="position:absolute;white-space:pre;line-height:1;font-size:12px;color:#ef9a9a;font-weight:normal;top:104.34px;letter-spacing:-0.110px;left:394.60px;">1.456,960</div>
<div class="t" id="t23" style="position:absolute;white-space:pre;line-height:1;font-size:12px;color:#131722;font-weight:normal;top:828.64px;left:91.50px;transform:translateX(-50%);">4</div>
<div class="t" id="t24" style="position:absolute;white-space:pre;line-height:1;font-size:12px;color:#131722;font-weight:normal;top:828.64px;left:179.00px;transform:translateX(-50%);">5</div>
<div class="t" id="t25" style="position:absolute;white-space:pre;line-height:1;font-size:12px;color:#131722;font-weight:normal;top:828.64px;left:266.50px;transform:translateX(-50%);">8</div>
<div class="t" id="t26" style="position:absolute;white-space:pre;line-height:1;font-size:12px;color:#131722;font-weight:normal;top:828.64px;left:354.00px;transform:translateX(-50%);">9</div>
<div class="t" id="t27" style="position:absolute;white-space:pre;line-height:1;font-size:12px;color:#131722;font-weight:normal;top:828.64px;left:442.40px;transform:translateX(-50%);">10</div>
<div class="t" id="t28" style="position:absolute;white-space:pre;line-height:1;font-size:12px;color:#131722;font-weight:normal;top:828.64px;left:529.50px;transform:translateX(-50%);">11</div>
<div class="t" id="t29" style="position:absolute;white-space:pre;line-height:1;font-size:12px;color:#131722;font-weight:normal;top:828.64px;left:617.00px;transform:translateX(-50%);">12</div>
<div class="t" id="t30" style="position:absolute;white-space:pre;line-height:1;font-size:12px;color:#131722;font-weight:normal;top:828.64px;left:704.50px;transform:translateX(-50%);">15</div>
<div class="t" id="t31" style="position:absolute;white-space:pre;line-height:1;font-size:12px;color:#131722;font-weight:normal;top:828.64px;left:792.00px;transform:translateX(-50%);">16</div>
<div class="t" id="t32" style="position:absolute;white-space:pre;line-height:1;font-size:12px;color:#131722;font-weight:normal;top:828.64px;left:879.70px;transform:translateX(-50%);">17</div>
<div class="t" id="t33" style="position:absolute;white-space:pre;line-height:1;font-size:12px;color:#131722;font-weight:normal;top:828.64px;left:967.50px;transform:translateX(-50%);">18</div>
<div class="t" id="t34" style="position:absolute;white-space:pre;line-height:1;font-size:12px;color:#131722;font-weight:normal;top:828.64px;left:1055.00px;transform:translateX(-50%);">19</div>
<div class="t" id="t35" style="position:absolute;white-space:pre;line-height:1;font-size:12px;color:#131722;font-weight:normal;top:828.64px;left:1142.50px;transform:translateX(-50%);">22</div>
<div class="t" id="t36" style="position:absolute;white-space:pre;line-height:1;font-size:12px;color:#131722;font-weight:normal;top:828.64px;left:1230.30px;transform:translateX(-50%);">23</div>
<div class="t" id="t37" style="position:absolute;white-space:pre;line-height:1;font-size:12px;color:#131722;font-weight:normal;top:828.64px;left:1318.00px;transform:translateX(-50%);">24</div>
<div class="t" id="t38" style="position:absolute;white-space:pre;line-height:1;font-size:12px;color:#131722;font-weight:normal;top:828.64px;left:1405.70px;transform:translateX(-50%);">25</div>
<div class="t" id="t39" style="position:absolute;white-space:pre;line-height:1;font-size:12px;color:#131722;font-weight:normal;top:828.64px;left:1493.00px;transform:translateX(-50%);">26</div>
<div class="t" id="t40" style="position:absolute;white-space:pre;line-height:1;font-size:12px;color:#131722;font-weight:normal;top:828.64px;left:1580.80px;transform:translateX(-50%);">29</div>
<div class="t" id="t41" style="position:absolute;white-space:pre;line-height:1;font-size:12px;color:#131722;font-weight:normal;top:828.64px;left:1668.60px;transform:translateX(-50%);">30</div>
<div class="t" id="t42" style="position:absolute;white-space:pre;line-height:1;font-size:12px;color:#131722;font-weight:bold;top:828.64px;left:1750.60px;transform:translateX(-50%);"><span style="display:inline-block;transform:scaleX(0.72)">E</span></div>
<div class="t" id="t43" style="position:absolute;white-space:pre;line-height:1;font-size:12px;color:#131722;font-weight:normal;top:60.84px;letter-spacing:-0.155px;left:1762.30px;">1.580,000</div>
<div class="t" id="t44" style="position:absolute;white-space:pre;line-height:1;font-size:12px;color:#131722;font-weight:normal;top:165.74px;letter-spacing:-0.155px;left:1762.30px;">1.540,000</div>
<div class="t" id="t45" style="position:absolute;white-space:pre;line-height:1;font-size:12px;color:#131722;font-weight:normal;top:375.74px;letter-spacing:-0.155px;left:1762.30px;">1.460,000</div>
<div class="t" id="t46" style="position:absolute;white-space:pre;line-height:1;font-size:12px;color:#131722;font-weight:normal;top:428.34px;letter-spacing:-0.155px;left:1762.30px;">1.440,000</div>
<div class="t" id="t47" style="position:absolute;white-space:pre;line-height:1;font-size:12px;color:#131722;font-weight:normal;top:480.84px;letter-spacing:-0.155px;left:1762.30px;">1.420,000</div>
<div class="t" id="t48" style="position:absolute;white-space:pre;line-height:1;font-size:12px;color:#131722;font-weight:normal;top:533.44px;letter-spacing:-0.155px;left:1762.30px;">1.400,000</div>
<div class="t" id="t49" style="position:absolute;white-space:pre;line-height:1;font-size:12px;color:#131722;font-weight:normal;top:585.94px;letter-spacing:-0.155px;left:1762.30px;">1.380,000</div>
<div class="t" id="t50" style="position:absolute;white-space:pre;line-height:1;font-size:12px;color:#131722;font-weight:normal;top:638.54px;letter-spacing:-0.155px;left:1762.30px;">1.360,000</div>
<div class="t" id="t51" style="position:absolute;white-space:pre;line-height:1;font-size:12px;color:#131722;font-weight:normal;top:691.04px;letter-spacing:-0.155px;left:1762.30px;">1.340,000</div>
<div class="t" id="t52" style="position:absolute;white-space:pre;line-height:1;font-size:12px;color:#131722;font-weight:normal;top:743.54px;letter-spacing:-0.155px;left:1762.30px;">1.320,000</div>
<div class="t" id="t53" style="position:absolute;white-space:pre;line-height:1;font-size:12px;color:#131722;font-weight:normal;top:796.04px;letter-spacing:-0.155px;left:1762.30px;">1.300,000</div>
<div style="position:absolute;left:1754px;top:83px;width:66px;height:48px;background:#f23645;border-radius:2px"></div>
<div style="position:absolute;left:1754px;top:131px;width:66px;height:17px;background:#43a047;border-radius:2px"></div>
<div style="position:absolute;left:1754px;top:215px;width:66px;height:17px;background:#2962ff;border-radius:2px"></div>
<div style="position:absolute;left:1754px;top:268px;width:66px;height:16.69999999999999px;background:#a5d6a7;border-radius:2px"></div>
<div style="position:absolute;left:1754px;top:320px;width:66px;height:16.69999999999999px;background:#b71c1c;border-radius:2px"></div>
<div style="position:absolute;left:1754px;top:383px;width:66px;height:16.69999999999999px;background:#ef9a9a;border-radius:2px"></div>
<div style="position:absolute;left:1754px;top:625.5px;width:66px;height:17.5px;background:#f23645;border-radius:2px"></div>
<div style="position:absolute;left:1754px;top:805px;width:46px;height:16px;background:#ef5350;border-radius:0px"></div>
<div class="t" id="t54" style="position:absolute;white-space:pre;line-height:1;font-size:12px;color:#fff;font-weight:normal;top:85.04px;letter-spacing:-0.177px;-webkit-text-stroke:0.35px #fff;left:1762.30px;">1.563,233</div>
<div class="t" id="t55" style="position:absolute;white-space:pre;line-height:1;font-size:12px;color:#fff;font-weight:normal;top:101.84px;letter-spacing:-0.177px;-webkit-text-stroke:0.35px #fff;left:1762.30px;">1.553,082</div>
<div class="t" id="t56" style="position:absolute;white-space:pre;line-height:1;font-size:12px;color:#fff;font-weight:normal;top:115.44px;letter-spacing:-0.015px;opacity:0.75;-webkit-text-stroke:0.35px #fff;left:1761.80px;">03:16:28</div>
<div class="t" id="t57" style="position:absolute;white-space:pre;line-height:1;font-size:12px;color:#fff;font-weight:normal;top:133.34px;letter-spacing:-0.177px;-webkit-text-stroke:0.35px #fff;left:1762.30px;">1.553,082</div>
<div class="t" id="t58" style="position:absolute;white-space:pre;line-height:1;font-size:12px;color:#fff;font-weight:normal;top:217.54px;letter-spacing:-0.177px;-webkit-text-stroke:0.35px #fff;left:1762.30px;">1.520,870</div>
<div class="t" id="t59" style="position:absolute;white-space:pre;line-height:1;font-size:12px;color:#131722;font-weight:normal;top:270.44px;letter-spacing:-0.177px;left:1762.30px;">1.500,809</div>
<div class="t" id="t60" style="position:absolute;white-space:pre;line-height:1;font-size:12px;color:#fff;font-weight:normal;top:322.54px;letter-spacing:-0.177px;-webkit-text-stroke:0.35px #fff;left:1762.30px;">1.480,748</div>
<div class="t" id="t61" style="position:absolute;white-space:pre;line-height:1;font-size:12px;color:#131722;font-weight:normal;top:385.44px;letter-spacing:-0.177px;left:1762.30px;">1.456,960</div>
<div class="t" id="t62" style="position:absolute;white-space:pre;line-height:1;font-size:12px;color:#fff;font-weight:normal;top:628.34px;letter-spacing:-0.177px;-webkit-text-stroke:0.35px #fff;left:1762.30px;">1.364,107</div>
<div class="t" id="t63" style="position:absolute;white-space:pre;line-height:1;font-size:12px;color:#fff;font-weight:normal;top:807.14px;letter-spacing:0.088px;-webkit-text-stroke:0.35px #fff;left:1762.50px;"><span style="-webkit-text-stroke:0.5px #fff">1,54K</span></div>
<div class="t" id="t64" style="position:absolute;white-space:pre;line-height:1;font-size:21.5px;color:#16181d;font-weight:bold;top:868.00px;letter-spacing:-0.432px;left:48.60px;">TradingView</div></div>
</body></html>
